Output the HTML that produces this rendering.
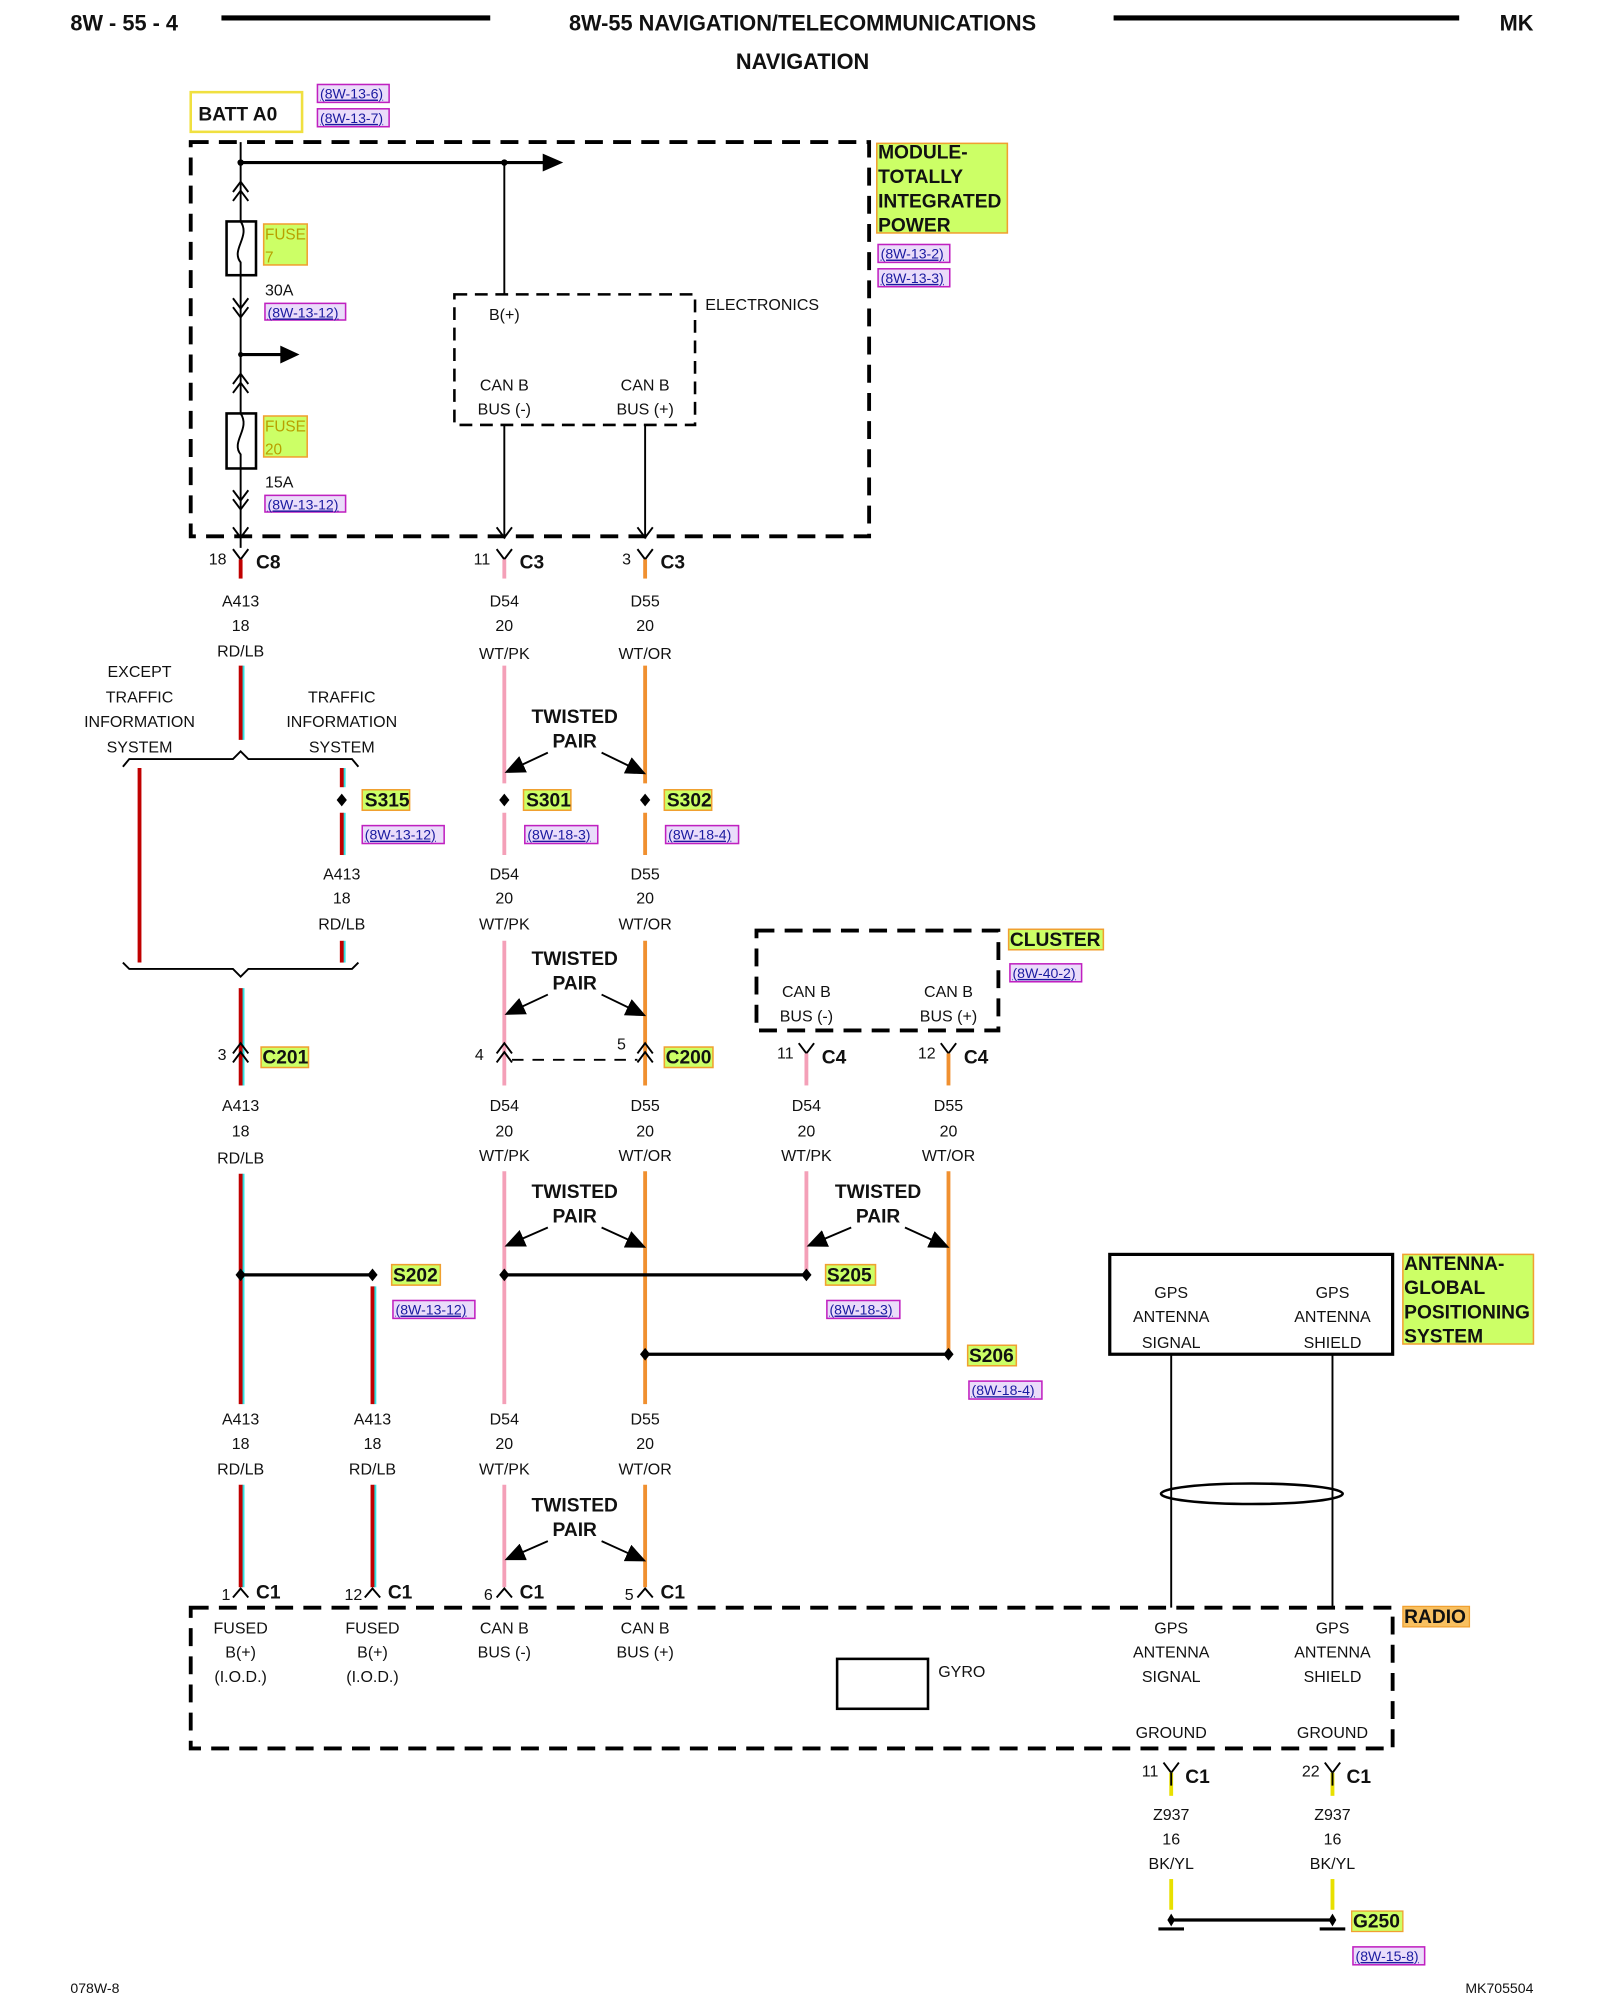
<!DOCTYPE html>
<html><head><meta charset="utf-8"><style>
html,body{margin:0;padding:0;background:#fff}
svg{display:block}
text{font-family:"Liberation Sans",sans-serif;fill:#111}
.h{font-weight:bold;font-size:17px}
.t{font-size:12.5px;text-anchor:middle}
.tl{font-size:12.5px}
.b{font-weight:bold;font-size:15px}
.tp{font-weight:bold;font-size:15px;text-anchor:middle}
.r{font-size:11px;fill:#1a1aa0;text-decoration:underline}
.g{fill:#ccff66;stroke:#f0a030;stroke-width:1.2}
.rb{fill:#eadcfa;stroke:#c020c0;stroke-width:1.2}
.ln{stroke:#000;stroke-width:1.5;fill:none}
.dash{stroke:#000;stroke-width:3;fill:none;stroke-dasharray:14 8}
.dash2{stroke:#000;stroke-width:2;fill:none;stroke-dasharray:10 6}
.red{stroke:#c00000;stroke-width:3}
.cy{stroke:#30e0e0;stroke-width:2}
.pk{stroke:#f4a0b8;stroke-width:3}
.or{stroke:#f09030;stroke-width:3}
.yl{stroke:#e8e000;stroke-width:3}
</style></head><body>
<svg width="1600" height="2000" viewBox="0 0 1250 1562.5" xmlns="http://www.w3.org/2000/svg">
<defs>
<marker id="ap" markerWidth="16" markerHeight="14" refX="14" refY="7" orient="auto" markerUnits="userSpaceOnUse"><path d="M0,0 L16,7 L0,14 z" fill="#000"/></marker>
</defs>
<text x="55" y="24" class="h">8W - 55 - 4</text>
<line x1="173" y1="14" x2="383" y2="14" stroke="#000" stroke-width="4"/>
<text x="627" y="24" class="h" text-anchor="middle">8W-55 NAVIGATION/TELECOMMUNICATIONS</text>
<line x1="870" y1="14" x2="1140" y2="14" stroke="#000" stroke-width="4"/>
<text x="1198" y="24" class="h" text-anchor="end">MK</text>
<text x="627" y="54" class="h" text-anchor="middle">NAVIGATION</text>

<rect x="149" y="72" width="87" height="31" fill="#fff" stroke="#f0e040" stroke-width="2"/>
<text x="155" y="94" class="b">BATT A0</text>
<rect x="248" y="66" width="56" height="14" class="rb"/><text x="250" y="77" class="r">(8W-13-6)</text>
<rect x="248" y="85" width="56" height="14" class="rb"/><text x="250" y="96" class="r">(8W-13-7)</text>

<rect x="149" y="111" width="530" height="308" class="dash"/>
<line x1="188" y1="111" x2="188" y2="428" class="ln"/>
<line x1="188" y1="127" x2="425" y2="127" stroke="#000" stroke-width="2.5"/>
<path d="M424,120 L440,127 L424,134 z"/>
<circle cx="188" cy="127" r="2.5"/><circle cx="394" cy="127" r="2.5"/>
<line x1="394" y1="127" x2="394" y2="230" class="ln"/>
<path d="M182,150 L188,142 L194,150 M182,157 L188,149 L194,157" class="ln"/>
<rect x="177" y="173" width="23" height="42" fill="#fff" stroke="#000" stroke-width="2"/>
<path d="M188,173 C196,185 180,195 188,205 L188,215" class="ln"/>
<rect x="206" y="175" width="34" height="32" class="g"/><text x="207" y="187" font-size="12" style="fill:#b8a000">FUSE</text><text x="207" y="205" font-size="12" style="fill:#b8a000">7</text>
<text x="207" y="231" class="tl">30A</text>
<rect x="207" y="237" width="63" height="13" class="rb"/><text x="209" y="248" class="r">(8W-13-12)</text>
<path d="M182,233 L188,241 L194,233 M182,240 L188,248 L194,240" class="ln"/>
<line x1="188" y1="277" x2="220" y2="277" stroke="#000" stroke-width="2.5"/>
<path d="M219,270 L234,277 L219,284 z"/>
<circle cx="188" cy="277" r="2"/>
<path d="M182,300 L188,292 L194,300 M182,307 L188,299 L194,307" class="ln"/>
<rect x="177" y="323" width="23" height="43" fill="#fff" stroke="#000" stroke-width="2"/>
<path d="M188,323 C196,335 180,345 188,355 L188,366" class="ln"/>
<rect x="206" y="325" width="34" height="32" class="g"/><text x="207" y="337" font-size="12" style="fill:#b8a000">FUSE</text><text x="207" y="355" font-size="12" style="fill:#b8a000">20</text>
<text x="207" y="381" class="tl">15A</text>
<rect x="207" y="387" width="63" height="13" class="rb"/><text x="209" y="398" class="r">(8W-13-12)</text>
<path d="M182,383 L188,391 L194,383 M182,390 L188,398 L194,390 M182,412 L188,420 L194,412" class="ln"/>

<rect x="355" y="230" width="188" height="102" class="dash2"/>
<text x="551" y="242" class="tl">ELECTRONICS</text>
<text x="394" y="250" class="t">B(+)</text>
<text x="394" y="305" class="t">CAN B</text><text x="394" y="324" class="t">BUS (-)</text>
<text x="504" y="305" class="t">CAN B</text><text x="504" y="324" class="t">BUS (+)</text>
<line x1="394" y1="332" x2="394" y2="420" class="ln"/><line x1="504" y1="332" x2="504" y2="420" class="ln"/>
<path d="M388,412 L394,420 L400,412 M498,412 L504,420 L510,412" class="ln"/>

<rect x="685" y="112" width="102" height="70" class="g"/>
<text x="686" y="124" class="b">MODULE-</text><text x="686" y="143" class="b">TOTALLY</text><text x="686" y="162" class="b">INTEGRATED</text><text x="686" y="181" class="b">POWER</text>
<rect x="686" y="191" width="56" height="14" class="rb"/><text x="688" y="202" class="r">(8W-13-2)</text>
<rect x="686" y="210" width="56" height="14" class="rb"/><text x="688" y="221" class="r">(8W-13-3)</text>

<path d="M182,429 L188,437 L194,429 M388,429 L394,437 L400,429 M498,429 L504,437 L510,429" class="ln"/>
<line x1="188" y1="437" x2="188" y2="452" class="red"/><line x1="394" y1="437" x2="394" y2="452" class="pk"/><line x1="504" y1="437" x2="504" y2="452" class="or"/>
<text x="177" y="441" class="tl" text-anchor="end" font-size="11">18</text><text x="200" y="444" class="b">C8</text>
<text x="383" y="441" class="tl" text-anchor="end" font-size="11">11</text><text x="406" y="444" class="b">C3</text>
<text x="493" y="441" class="tl" text-anchor="end" font-size="11">3</text><text x="516" y="444" class="b">C3</text>

<g class="t">
<text x="188" y="474">A413</text><text x="188" y="493">18</text><text x="188" y="513">RD/LB</text>
<text x="394" y="474">D54</text><text x="394" y="493">20</text><text x="394" y="515">WT/PK</text>
<text x="504" y="474">D55</text><text x="504" y="493">20</text><text x="504" y="515">WT/OR</text>
<text x="109" y="529">EXCEPT</text><text x="109" y="549">TRAFFIC</text><text x="109" y="568">INFORMATION</text><text x="109" y="588">SYSTEM</text>
<text x="267" y="549">TRAFFIC</text><text x="267" y="568">INFORMATION</text><text x="267" y="588">SYSTEM</text>
</g>
<line x1="190" y1="520" x2="190" y2="578" class="cy"/><line x1="188" y1="520" x2="188" y2="578" class="red"/>
<line x1="394" y1="520" x2="394" y2="612" class="pk"/><line x1="504" y1="520" x2="504" y2="612" class="or"/>
<path d="M96,599 L101,593 L182,593 L188,587 L194,593 L275,593 L280,599" class="ln"/>
<line x1="109" y1="600" x2="109" y2="752" class="red"/>
<line x1="269" y1="600" x2="269" y2="615" class="cy"/><line x1="267" y1="600" x2="267" y2="615" class="red"/>
<line x1="269" y1="635" x2="269" y2="668" class="cy"/><line x1="267" y1="635" x2="267" y2="668" class="red"/>
<line x1="269" y1="735" x2="269" y2="752" class="cy"/><line x1="267" y1="735" x2="267" y2="752" class="red"/>
<path d="M96,752 L101,757 L182,757 L188,763 L194,757 L275,757 L280,752" class="ln"/>

<text x="449" y="565" class="tp">TWISTED</text><text x="449" y="584" class="tp">PAIR</text>
<line x1="428" y1="588" x2="396" y2="603" class="ln" marker-end="url(#ap)"/>
<line x1="470" y1="588" x2="503" y2="604" class="ln" marker-end="url(#ap)"/>

<path d="M267,620 L271,625 L267,630 L263,625 z M394,620 L398,625 L394,630 L390,625 z M504,620 L508,625 L504,630 L500,625 z"/>
<rect x="283" y="617" width="37" height="16" class="g"/><text x="285" y="630" class="b" font-size="14">S315</text>
<rect x="409" y="617" width="37" height="16" class="g"/><text x="411" y="630" class="b" font-size="14">S301</text>
<rect x="519" y="617" width="37" height="16" class="g"/><text x="521" y="630" class="b" font-size="14">S302</text>
<rect x="283" y="645" width="64" height="14" class="rb"/><text x="285" y="656" class="r">(8W-13-12)</text>
<rect x="410" y="645" width="57" height="14" class="rb"/><text x="412" y="656" class="r">(8W-18-3)</text>
<rect x="520" y="645" width="57" height="14" class="rb"/><text x="522" y="656" class="r">(8W-18-4)</text>
<line x1="394" y1="635" x2="394" y2="668" class="pk"/><line x1="504" y1="635" x2="504" y2="668" class="or"/>
<g class="t">
<text x="267" y="687">A413</text><text x="267" y="706">18</text><text x="267" y="726">RD/LB</text>
<text x="394" y="687">D54</text><text x="394" y="706">20</text><text x="394" y="726">WT/PK</text>
<text x="504" y="687">D55</text><text x="504" y="706">20</text><text x="504" y="726">WT/OR</text>
</g>
<line x1="394" y1="735" x2="394" y2="848" class="pk"/><line x1="504" y1="735" x2="504" y2="848" class="or"/>
<text x="449" y="754" class="tp">TWISTED</text><text x="449" y="773" class="tp">PAIR</text>
<line x1="428" y1="777" x2="396" y2="792" class="ln" marker-end="url(#ap)"/>
<line x1="470" y1="777" x2="503" y2="793" class="ln" marker-end="url(#ap)"/>

<line x1="190" y1="772" x2="190" y2="848" class="cy"/><line x1="188" y1="772" x2="188" y2="848" class="red"/>
<path d="M182,823 L188,815 L194,823 M182,830 L188,822 L194,830" stroke="#000" stroke-width="1.5" fill="none"/>
<text x="170" y="828" class="tl" font-size="11">3</text>
<rect x="204" y="818" width="37" height="16" class="g"/><text x="205" y="831" class="b" font-size="14">C201</text>
<path d="M388,823 L394,815 L400,823 M388,830 L394,822 L400,830 M498,823 L504,815 L510,823 M498,830 L504,822 L510,830" class="ln"/>
<line x1="400" y1="828" x2="498" y2="828" stroke="#000" stroke-width="1.5" stroke-dasharray="9 7"/>
<text x="371" y="828" class="tl" font-size="11">4</text><text x="482" y="820" class="tl" font-size="11">5</text>
<rect x="519" y="818" width="38" height="16" class="g"/><text x="520" y="831" class="b" font-size="14">C200</text>

<rect x="591" y="727" width="189" height="78" class="dash"/>
<rect x="788" y="726" width="74" height="16" class="g"/><text x="789" y="739" class="b" font-size="14">CLUSTER</text>
<rect x="789" y="753" width="56" height="14" class="rb"/><text x="791" y="764" class="r">(8W-40-2)</text>
<g class="t"><text x="630" y="779">CAN B</text><text x="630" y="798">BUS (-)</text><text x="741" y="779">CAN B</text><text x="741" y="798">BUS (+)</text></g>
<path d="M624,815 L630,823 L636,815 M735,815 L741,823 L747,815" class="ln"/>
<line x1="630" y1="823" x2="630" y2="848" class="pk"/><line x1="741" y1="823" x2="741" y2="848" class="or"/>
<text x="620" y="827" class="tl" text-anchor="end" font-size="11">11</text><text x="642" y="831" class="b">C4</text>
<text x="731" y="827" class="tl" text-anchor="end" font-size="11">12</text><text x="753" y="831" class="b">C4</text>

<g class="t">
<text x="188" y="868">A413</text><text x="188" y="888">18</text><text x="188" y="909">RD/LB</text>
<text x="394" y="868">D54</text><text x="394" y="888">20</text><text x="394" y="907">WT/PK</text>
<text x="504" y="868">D55</text><text x="504" y="888">20</text><text x="504" y="907">WT/OR</text>
<text x="630" y="868">D54</text><text x="630" y="888">20</text><text x="630" y="907">WT/PK</text>
<text x="741" y="868">D55</text><text x="741" y="888">20</text><text x="741" y="907">WT/OR</text>
</g>
<line x1="190" y1="917" x2="190" y2="1097" class="cy"/><line x1="188" y1="917" x2="188" y2="1097" class="red"/>
<line x1="394" y1="915" x2="394" y2="1097" class="pk"/><line x1="504" y1="915" x2="504" y2="1097" class="or"/>
<line x1="630" y1="915" x2="630" y2="996" class="pk"/><line x1="741" y1="915" x2="741" y2="1058" class="or"/>
<text x="449" y="936" class="tp">TWISTED</text><text x="449" y="955" class="tp">PAIR</text>
<line x1="428" y1="959" x2="396" y2="973" class="ln" marker-end="url(#ap)"/>
<line x1="470" y1="959" x2="503" y2="974" class="ln" marker-end="url(#ap)"/>
<text x="686" y="936" class="tp">TWISTED</text><text x="686" y="955" class="tp">PAIR</text>
<line x1="665" y1="959" x2="632" y2="973" class="ln" marker-end="url(#ap)"/>
<line x1="707" y1="959" x2="740" y2="974" class="ln" marker-end="url(#ap)"/>

<line x1="188" y1="996" x2="291" y2="996" stroke="#000" stroke-width="2.5"/>
<line x1="394" y1="996" x2="630" y2="996" stroke="#000" stroke-width="2.5"/>
<line x1="504" y1="1058" x2="741" y2="1058" stroke="#000" stroke-width="2.5"/>
<path d="M188,991 L192,996 L188,1001 L184,996 z M291,991 L295,996 L291,1001 L287,996 z M394,991 L398,996 L394,1001 L390,996 z M630,991 L634,996 L630,1001 L626,996 z M504,1053 L508,1058 L504,1063 L500,1058 z M741,1053 L745,1058 L741,1063 L737,1058 z"/>
<line x1="293" y1="1005" x2="293" y2="1097" class="cy"/><line x1="291" y1="1005" x2="291" y2="1097" class="red"/>
<rect x="306" y="988" width="38" height="16" class="g"/><text x="307" y="1001" class="b" font-size="14">S202</text>
<rect x="307" y="1016" width="64" height="14" class="rb"/><text x="309" y="1027" class="r">(8W-13-12)</text>
<rect x="645" y="988" width="39" height="16" class="g"/><text x="646" y="1001" class="b" font-size="14">S205</text>
<rect x="646" y="1016" width="57" height="14" class="rb"/><text x="648" y="1027" class="r">(8W-18-3)</text>
<rect x="756" y="1051" width="38" height="16" class="g"/><text x="757" y="1064" class="b" font-size="14">S206</text>
<rect x="757" y="1079" width="57" height="14" class="rb"/><text x="759" y="1090" class="r">(8W-18-4)</text>

<rect x="867" y="980" width="221" height="78" fill="#fff" stroke="#000" stroke-width="2.5"/>
<g class="t"><text x="915" y="1014">GPS</text><text x="915" y="1033">ANTENNA</text><text x="915" y="1053">SIGNAL</text>
<text x="1041" y="1014">GPS</text><text x="1041" y="1033">ANTENNA</text><text x="1041" y="1053">SHIELD</text></g>
<rect x="1096" y="980" width="102" height="70" class="g"/>
<text x="1097" y="992" class="b">ANTENNA-</text><text x="1097" y="1011" class="b">GLOBAL</text><text x="1097" y="1030" class="b">POSITIONING</text><text x="1097" y="1049" class="b">SYSTEM</text>
<line x1="915" y1="1058" x2="915" y2="1256" class="ln"/><line x1="1041" y1="1058" x2="1041" y2="1256" class="ln"/>
<ellipse cx="978" cy="1167" rx="71" ry="8" fill="none" stroke="#000" stroke-width="2"/>

<g class="t">
<text x="188" y="1113">A413</text><text x="188" y="1132">18</text><text x="188" y="1152">RD/LB</text>
<text x="291" y="1113">A413</text><text x="291" y="1132">18</text><text x="291" y="1152">RD/LB</text>
<text x="394" y="1113">D54</text><text x="394" y="1132">20</text><text x="394" y="1152">WT/PK</text>
<text x="504" y="1113">D55</text><text x="504" y="1132">20</text><text x="504" y="1152">WT/OR</text>
</g>
<line x1="190" y1="1160" x2="190" y2="1240" class="cy"/><line x1="188" y1="1160" x2="188" y2="1240" class="red"/>
<line x1="293" y1="1160" x2="293" y2="1240" class="cy"/><line x1="291" y1="1160" x2="291" y2="1240" class="red"/>
<line x1="394" y1="1160" x2="394" y2="1240" class="pk"/><line x1="504" y1="1160" x2="504" y2="1240" class="or"/>
<text x="449" y="1181" class="tp">TWISTED</text><text x="449" y="1200" class="tp">PAIR</text>
<line x1="428" y1="1204" x2="396" y2="1218" class="ln" marker-end="url(#ap)"/>
<line x1="470" y1="1204" x2="503" y2="1219" class="ln" marker-end="url(#ap)"/>

<path d="M182,1248 L188,1241 L194,1248 M285,1248 L291,1241 L297,1248 M388,1248 L394,1241 L400,1248 M498,1248 L504,1241 L510,1248" class="ln"/>
<text x="180" y="1250" class="tl" text-anchor="end" font-size="11">1</text><text x="200" y="1249" class="b">C1</text>
<text x="283" y="1250" class="tl" text-anchor="end" font-size="11">12</text><text x="303" y="1249" class="b">C1</text>
<text x="385" y="1250" class="tl" text-anchor="end" font-size="11">6</text><text x="406" y="1249" class="b">C1</text>
<text x="495" y="1250" class="tl" text-anchor="end" font-size="11">5</text><text x="516" y="1249" class="b">C1</text>

<rect x="149" y="1256" width="939" height="110" class="dash"/>
<rect x="1096" y="1255" width="52" height="16" fill="#f8c060" stroke="#f0a030"/><text x="1097" y="1268" class="b" font-size="14">RADIO</text>
<g class="t">
<text x="188" y="1276">FUSED</text><text x="188" y="1295">B(+)</text><text x="188" y="1314">(I.O.D.)</text>
<text x="291" y="1276">FUSED</text><text x="291" y="1295">B(+)</text><text x="291" y="1314">(I.O.D.)</text>
<text x="394" y="1276">CAN B</text><text x="394" y="1295">BUS (-)</text>
<text x="504" y="1276">CAN B</text><text x="504" y="1295">BUS (+)</text>
<text x="915" y="1276">GPS</text><text x="915" y="1295">ANTENNA</text><text x="915" y="1314">SIGNAL</text>
<text x="1041" y="1276">GPS</text><text x="1041" y="1295">ANTENNA</text><text x="1041" y="1314">SHIELD</text>
<text x="915" y="1358">GROUND</text><text x="1041" y="1358">GROUND</text>
</g>
<rect x="654" y="1296" width="71" height="39" fill="none" stroke="#000" stroke-width="2"/>
<text x="733" y="1310" class="tl">GYRO</text>

<path d="M909,1377 L915,1385 L921,1377 M1035,1377 L1041,1385 L1047,1377" class="ln"/>
<line x1="915" y1="1385" x2="915" y2="1403" class="yl"/><line x1="1041" y1="1385" x2="1041" y2="1403" class="yl"/>
<line x1="915" y1="1385" x2="915" y2="1395" class="ln"/><line x1="1041" y1="1385" x2="1041" y2="1395" class="ln"/>
<text x="905" y="1388" class="tl" text-anchor="end" font-size="11">11</text><text x="926" y="1393" class="b">C1</text>
<text x="1031" y="1388" class="tl" text-anchor="end" font-size="11">22</text><text x="1052" y="1393" class="b">C1</text>
<g class="t"><text x="915" y="1422">Z937</text><text x="915" y="1441">16</text><text x="915" y="1460">BK/YL</text>
<text x="1041" y="1422">Z937</text><text x="1041" y="1441">16</text><text x="1041" y="1460">BK/YL</text></g>
<line x1="915" y1="1468" x2="915" y2="1492" class="yl"/><line x1="1041" y1="1468" x2="1041" y2="1492" class="yl"/>
<line x1="915" y1="1500" x2="1041" y2="1500" stroke="#000" stroke-width="2.5"/>
<path d="M915,1495 L918,1500 L915,1505 L912,1500 z M1041,1495 L1044,1500 L1041,1505 L1038,1500 z"/>
<line x1="905" y1="1507" x2="925" y2="1507" stroke="#000" stroke-width="2.5"/><line x1="1031" y1="1507" x2="1051" y2="1507" stroke="#000" stroke-width="2.5"/>
<rect x="1056" y="1493" width="40" height="16" fill="#ccff66" stroke="#f0a030"/><text x="1057" y="1506" class="b" font-size="14">G250</text>
<rect x="1057" y="1521" width="56" height="14" class="rb"/><text x="1059" y="1532" class="r">(8W-15-8)</text>

<text x="55" y="1557" font-size="11">078W-8</text>
<text x="1198" y="1557" font-size="11" text-anchor="end">MK705504</text>
</svg>
</body></html>
